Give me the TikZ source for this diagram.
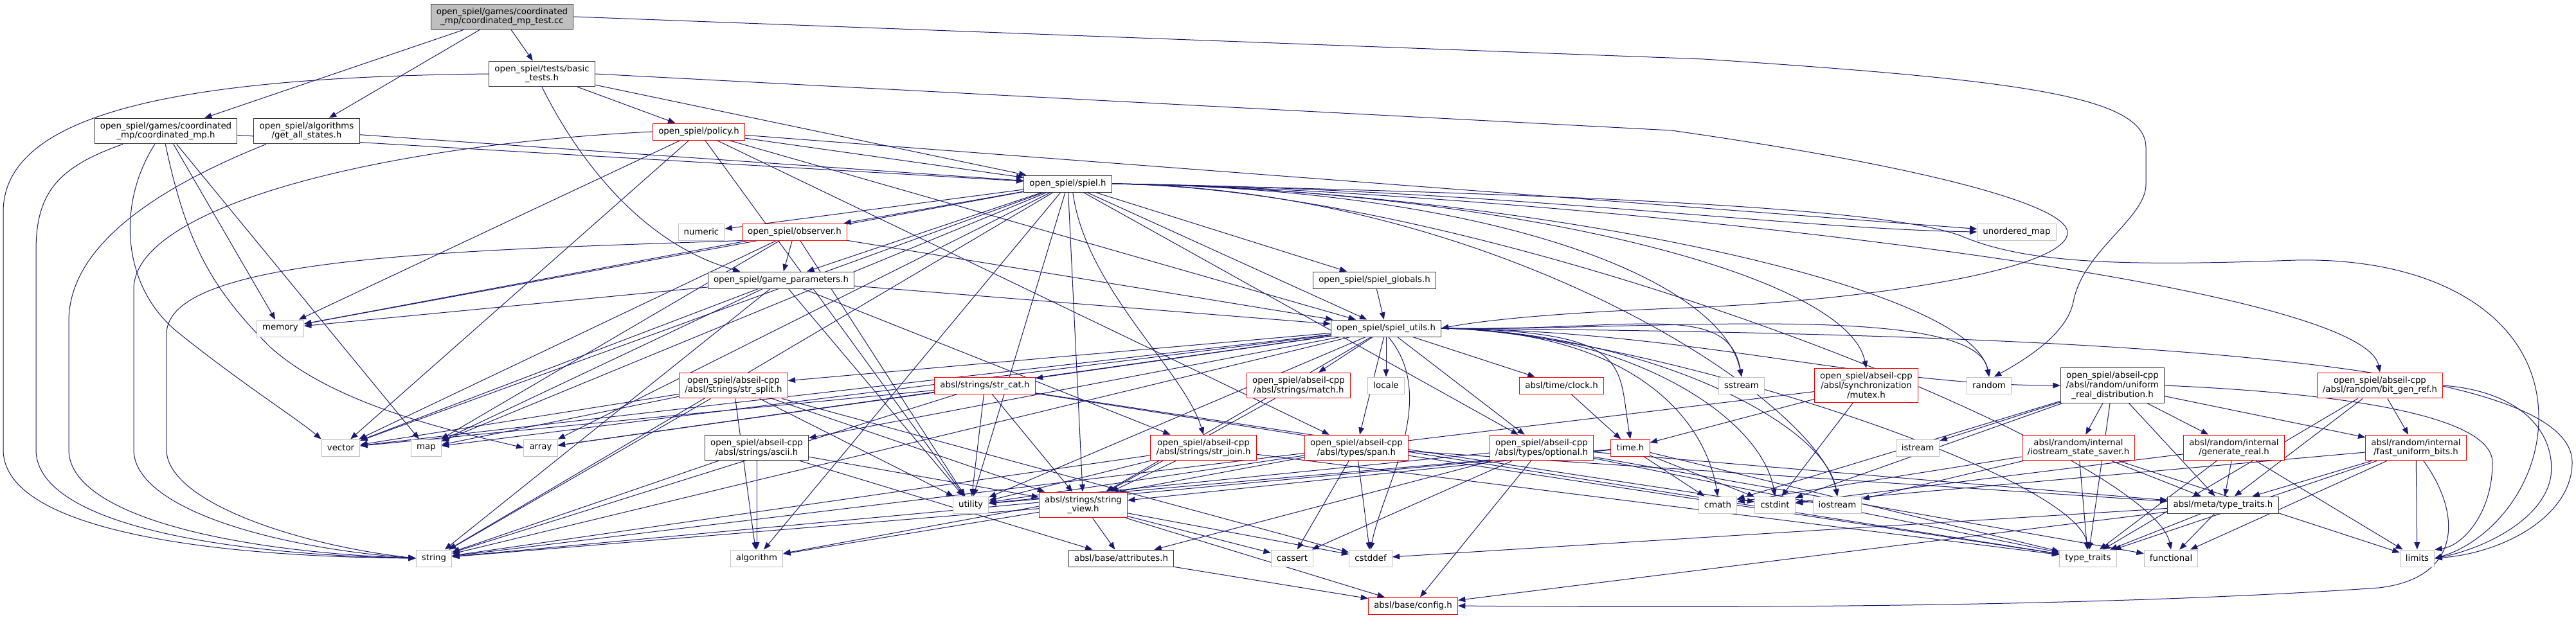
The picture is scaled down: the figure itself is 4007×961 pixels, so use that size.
\documentclass[tikz,border=0pt]{standalone}
\usepackage{fontspec}
\setmainfont{DejaVu Sans}
\usetikzlibrary{arrows.meta,backgrounds}
\definecolor{edgeblue}{HTML}{191970}
\definecolor{sysgray}{HTML}{BFBFBF}
\definecolor{truncred}{HTML}{FF0000}

\begin{document}
\begin{tikzpicture}[x=0.75pt, y=-0.75pt,
    file/.style={draw=black!80, fill=white, line width=0.75pt, inner xsep=6.5pt, inner ysep=4.5pt, minimum height=19.5pt, align=center, font=\fontsize{10}{11}\selectfont},
    redfile/.style={file, draw=truncred},
    sysfile/.style={file, draw=sysgray},
    rootfile/.style={file, fill=sysgray},
    dep/.style={draw=edgeblue, line width=0.75pt, -{Triangle[length=8.5pt, width=6.5pt]}}]
  \useasboundingbox (0,0) rectangle (4007,961);

  % files of open_spiel
  \node[rootfile] (test) at (781,26) {open\_spiel/games/coordinated\\\_mp/coordinated\_mp\_test.cc};
  \node[file] (cmp) at (258,204) {open\_spiel/games/coordinated\\\_mp/coordinated\_mp.h};
  \node[file] (gas) at (477,204) {open\_spiel/algorithms\\/get\_all\_states.h};
  \node[file] (basic) at (843,115) {open\_spiel/tests/basic\\\_tests.h};
  \node[redfile] (policy) at (1087,205) {open\_spiel/policy.h};
  \node[sysfile] (numeric) at (1091,361) {numeric};
  \node[redfile] (observer) at (1236,361) {open\_spiel/observer.h};
  \node[file] (gparams) at (1215,436) {open\_spiel/game\_parameters.h};
  \node[file] (spiel) at (1661,286) {open\_spiel/spiel.h};
  \node[file] (globals) at (2138,436) {open\_spiel/spiel\_globals.h};
  \node[sysfile] (umap) at (3137,361) {unordered\_map};
  \node[file] (utils) at (2156,511) {open\_spiel/spiel\_utils.h};

  % system headers and abseil
  \node[sysfile] (memory) at (436,511) {memory};
  \node[sysfile] (vector) at (530,697) {vector};
  \node[sysfile] (map) at (663,697) {map};
  \node[sysfile] (string) at (675,869) {string};
  \node[sysfile] (array) at (841,697) {array};
  \node[redfile] (split) at (1141,600) {open\_spiel/abseil-cpp\\/absl/strings/str\_split.h};
  \node[file] (ascii) at (1177,697) {open\_spiel/abseil-cpp\\/absl/strings/ascii.h};
  \node[sysfile] (algorithm) at (1177,869) {algorithm};
  \node[redfile] (strcat) at (1532,600) {absl/strings/str\_cat.h};
  \node[sysfile] (utility) at (1510,786) {utility};
  \node[redfile] (sview) at (1685,786) {absl/strings/string\\\_view.h};
  \node[redfile] (join) at (1872,697) {open\_spiel/abseil-cpp\\/absl/strings/str\_join.h};
  \node[file] (attributes) at (1744,869) {absl/base/attributes.h};
  \node[redfile] (match) at (2020,600) {open\_spiel/abseil-cpp\\/absl/strings/match.h};
  \node[sysfile] (locale) at (2156,600) {locale};
  \node[redfile] (clock) at (2429,600) {absl/time/clock.h};
  \node[redfile] (span) at (2110,697) {open\_spiel/abseil-cpp\\/absl/types/span.h};
  \node[redfile] (optional) at (2398,697) {open\_spiel/abseil-cpp\\/absl/types/optional.h};
  \node[redfile] (timeh) at (2536,697) {time.h};
  \node[sysfile] (cassert) at (2010,869) {cassert};
  \node[sysfile] (cstddef) at (2132,869) {cstddef};
  \node[redfile] (config) at (2198,943) {absl/base/config.h};
  \node[sysfile] (sstream) at (2709,600) {sstream};
  \node[redfile] (mutex) at (2903,600) {open\_spiel/abseil-cpp\\/absl/synchronization\\/mutex.h};
  \node[sysfile] (random) at (3094,600) {random};
  \node[file] (uniform) at (3286,600) {open\_spiel/abseil-cpp\\/absl/random/uniform\\\_real\_distribution.h};
  \node[sysfile] (istream) at (2983,697) {istream};
  \node[redfile] (saver) at (3233,697) {absl/random/internal\\/iostream\_state\_saver.h};
  \node[sysfile] (cmath) at (2672,786) {cmath};
  \node[sysfile] (cstdint) at (2761,786) {cstdint};
  \node[sysfile] (iostream) at (2858,786) {iostream};
  \node[sysfile] (typetraits) at (3248,869) {type\_traits};
  \node[redfile] (bitgen) at (3702,600) {open\_spiel/abseil-cpp\\/absl/random/bit\_gen\_ref.h};
  \node[redfile] (genreal) at (3475,697) {absl/random/internal\\/generate\_real.h};
  \node[redfile] (fastbits) at (3758,697) {absl/random/internal\\/fast\_uniform\_bits.h};
  \node[file] (metatt) at (3458,786) {absl/meta/type\_traits.h};
  \node[sysfile] (functional) at (3377,869) {functional};
  \node[sysfile] (limits) at (3760,869) {limits};

  \begin{scope}[on background layer]
    % plain include edges
    \foreach \s/\t in {test/cmp, test/gas, test/basic, basic/policy, basic/spiel,
        cmp/memory, cmp/map, cmp/spiel, gas/spiel,
        policy/memory, policy/vector, policy/spiel, policy/umap, policy/utils, policy/utility, policy/span,
        spiel/memory, spiel/vector, spiel/map, spiel/array, spiel/string, spiel/algorithm, spiel/utility,
        spiel/sview, spiel/numeric, spiel/observer, spiel/gparams, spiel/utils, spiel/globals, spiel/optional,
        observer/memory, observer/vector, observer/map, observer/gparams, observer/utils, observer/utility,
        gparams/memory, gparams/string, gparams/vector, gparams/map, gparams/utility, gparams/utils, gparams/join,
        globals/utils,
        utils/vector, utils/map, utils/array, utils/string, utils/utility, utils/sview, utils/split,
        utils/strcat, utils/ascii, utils/match, utils/locale, utils/span, utils/optional, utils/clock,
        split/string, split/algorithm, split/map, split/vector, split/utility, split/sview, split/cstddef,
        ascii/algorithm, ascii/string, ascii/attributes, ascii/sview,
        strcat/string, strcat/vector, strcat/array, strcat/utility, strcat/sview, strcat/cstdint, strcat/typetraits,
        join/string, join/utility, join/sview, join/typetraits,
        sview/algorithm, sview/string, sview/attributes, sview/cassert, sview/cstddef, sview/config,
        match/sview,
        span/algorithm, span/cassert, span/cstddef, span/utility, span/typetraits, span/metatt,
        optional/attributes, optional/cassert, optional/config, optional/utility, optional/typetraits,
        optional/functional, optional/metatt,
        clock/timeh,
        timeh/cmath, timeh/cstdint, timeh/string, timeh/typetraits, timeh/utility, timeh/sview,
        mutex/cstdint, mutex/string, mutex/timeh,
        uniform/istream, uniform/saver, uniform/genreal, uniform/fastbits, uniform/metatt,
        uniform/typetraits, uniform/cstdint, uniform/cmath,
        saver/cmath, saver/iostream, saver/typetraits, saver/metatt, saver/limits,
        genreal/metatt, genreal/limits, genreal/typetraits, genreal/cstdint,
        fastbits/metatt, fastbits/typetraits, fastbits/functional, fastbits/limits, fastbits/cstdint,
        bitgen/metatt, bitgen/fastbits, bitgen/typetraits,
        metatt/cstddef, metatt/functional, metatt/typetraits, metatt/config,
        attributes/config}
      \draw[dep] (\s) -- (\t);

    % bundles leaving to the right
    \foreach \t in {sstream, mutex, random, bitgen, iostream, functional}
      \draw[dep] (spiel.east) .. controls +(600,8) and +(-30,-150) .. (\t.north);
    \draw[dep] (spiel.east) .. controls +(600,8) and +(-300,-5) .. (umap.west);
    \foreach \t in {timeh, sstream, cmath, cstdint, iostream, random, typetraits}
      \draw[dep] (utils.east) .. controls +(300,5) and +(-20,-120) .. (\t.north);
    \draw[dep] (utils.east) .. controls +(400,5) and +(-300,0) .. (uniform.west);

    % long curves on the left into string
    \draw[dep] (basic.west) .. controls (300,120) and (5,170) .. (5,330) -- (5,700)
      .. controls (5,820) and (300,866) .. (string.west);
    \draw[dep] (cmp.197) .. controls (90,260) and (56,300) .. (56,390) -- (56,700)
      .. controls (56,810) and (320,862) .. (string.west);
    \draw[dep] (gas.198) .. controls (250,290) and (107,380) .. (107,500) -- (107,700)
      .. controls (107,800) and (350,858) .. (string.west);
    \draw[dep] (policy.west) .. controls (600,225) and (208,320) .. (208,450) -- (208,700)
      .. controls (208,790) and (420,852) .. (string.west);
    \draw[dep] (observer.south west) .. controls (700,390) and (259,400) .. (259,520) -- (259,700)
      .. controls (259,780) and (460,848) .. (string.west);

    % other curved edges
    \draw[dep] (cmp.230) .. controls (180,320) and (190,450) .. (280,520)
      .. controls (380,600) and (460,650) .. (vector.north west);
    \draw[dep] (cmp.268) .. controls (290,380) and (330,450) .. (420,540)
      .. controls (520,630) and (700,670) .. (array.west);
    \draw[dep] (basic.south) .. controls (900,250) and (1000,380) .. (gparams.168);
    \draw[dep] (spiel.-60) .. controls +(20,150) and +(-30,-100) .. (join.north);
    \draw[dep] (utils.-75) .. controls (2240,620) and (2150,760) .. (cstddef.north);

    % long loops on the right
    \draw[dep] (test.east) -- (2650,92) .. controls (3150,125) and (3338,150) .. (3338,230) -- (3338,287)
      .. controls (3338,340) and (3240,390) .. (3225,470) .. controls (3215,520) and (3150,560) .. (random.60);
    \draw[dep] (basic.east) -- (2600,203) .. controls (3000,260) and (3216,320) .. (3216,362)
      .. controls (3216,420) and (2900,470) .. (2600,480) .. controls (2400,488) and (2300,500) .. (utils.east);
    \draw[dep] (spiel.east) .. controls (2600,305) and (2950,330) .. (3050,367)
      .. controls (3150,410) and (3300,415) .. (3570,405) .. controls (3800,400) and (3949,500) .. (3949,650)
      .. controls (3949,760) and (3870,845) .. (limits.east);
    \draw[dep] (utils.east) .. controls (3300,520) and (4001,560) .. (4001,720)
      .. controls (4001,800) and (3900,860) .. (limits.east);
    \draw[dep] (bitgen.east) .. controls (3930,610) and (3975,680) .. (3968,740)
      .. controls (3958,810) and (3860,855) .. (limits.east);
    \draw[dep] (uniform.east) .. controls (3600,610) and (3877,640) .. (3877,720)
      .. controls (3877,800) and (3830,850) .. (limits.north east);
    \draw[dep] (fastbits.-60) .. controls (3830,800) and (3830,900) .. (3700,915)
      .. controls (3200,950) and (2500,945) .. (config.east);
  \end{scope}
\end{tikzpicture}
\end{document}
